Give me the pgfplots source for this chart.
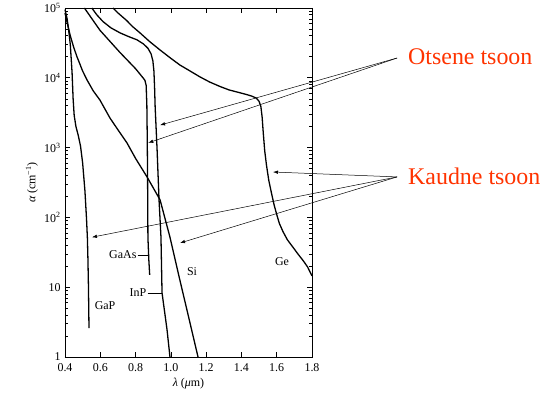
\documentclass[border=0pt]{standalone}
\usepackage{fontspec}
\setmainfont{Liberation Serif}
\usepackage{pgfplots}
\pgfplotsset{compat=1.18}
\usetikzlibrary{arrows.meta}
\definecolor{annot}{RGB}{255,51,0}

\pgfplotstableread{
x y
0.400 95000
0.412 70000
0.420 50000
0.430 30000
0.440 12000
0.446 5000
0.452 2900
0.462 2000
0.475 1500
0.488 1050
0.500 600
0.513 240
0.522 95
0.527 50
0.530 25
0.533 10
0.536 2.6
}\GaP

\pgfplotstableread{
x y
0.400 85000
0.412 62000
0.430 40000
0.450 27000
0.468 20000
0.500 12500
0.525 9300
0.560 6500
0.598 4800
0.655 2650
0.700 1800
0.751 1170
0.800 700
0.865 380
0.939 178
0.995 52
1.050 13
1.100 3.8
1.154 1
}\Si

\pgfplotstableread{
x y
0.510 100000
0.598 48000
0.712 23000
0.800 13500
0.842 10000
0.853 9200
0.860 7800
0.864 4000
0.866 1500
0.868 400
0.870 52
0.875 25
0.880 15
}\GaAs

\pgfplotstableread{
x y
0.552 100000
0.580 80000
0.615 64000
0.660 52000
0.712 44000
0.760 39000
0.808 35000
0.845 30500
0.870 26500
0.888 22000
0.898 17500
0.904 12500
0.908 7000
0.911 3800
0.922 930
0.933 178
0.944 52
0.950 8.3
0.978 2.5
0.995 1
}\InP

\pgfplotstableread{
x y
0.672 100000
0.700 85000
0.750 66000
0.780 55000
0.825 44000
0.880 33000
0.939 25000
1.000 19000
1.052 15200
1.100 12900
1.165 10300
1.220 8700
1.279 7500
1.330 6700
1.392 6100
1.430 5750
1.460 5450
1.485 5100
1.500 4600
1.510 3900
1.517 2800
1.524 1600
1.532 900
1.542 560
1.555 340
1.570 225
1.585 152
1.600 110
1.615 82
1.635 63
1.660 48
1.690 38
1.720 30
1.750 24
1.775 19.5
1.800 14.5
}\Ge

\begin{document}
\begin{tikzpicture}
\path[use as bounding box] (-65bp,-42bp) rectangle (490bp,357bp);
\begin{axis}[
  at={(0,0)}, anchor=south west,
  scale only axis, width=247bp, height=349bp,
  xmin=0.4, xmax=1.8, ymin=1, ymax=100000,
  ymode=log,
  clip=false,
  axis line style={line width=0.8pt},
  tick style={black, line width=0.6pt},
  major tick length=5bp, minor tick length=3bp,
  xtick={0.4,0.6,0.8,1.0,1.2,1.4,1.6,1.8},
  xticklabels={0.4,0.6,0.8,1.0,1.2,1.4,1.6,1.8},
  ytick={1,10,100,1000,10000,100000},
  yticklabels={1,10,10\textsuperscript{2},10\textsuperscript{3},10\textsuperscript{4},10\textsuperscript{5}},
  ticklabel style={font=\fontsize{12}{13}\selectfont},
  xticklabel style={yshift=-3.5pt},
  yticklabel style={xshift=-1pt},
  xlabel={{\itshape λ} ({\itshape μ}m)},
  ylabel={{\itshape α} (cm\textsuperscript{−1})},
  xlabel style={at={(axis description cs:0.5,-0.075)}, anchor=center, font=\fontsize{12}{13}\selectfont},
  ylabel style={at={(axis description cs:-0.134,0.5)}, anchor=center, rotate=0, font=\fontsize{12}{13}\selectfont},
]
\addplot[black, line width=1.3pt] table[x=x,y=y] {\GaP};
\addplot[black, line width=1.3pt] table[x=x,y=y] {\Si};
\addplot[black, line width=1.3pt] table[x=x,y=y] {\GaAs};
\addplot[black, line width=1.3pt] table[x=x,y=y] {\InP};
\addplot[black, line width=1.3pt] table[x=x,y=y] {\Ge};

% curve labels
\node[anchor=east, inner sep=0pt, font=\fontsize{12}{13}\selectfont] at (axis cs:0.806,29) {GaAs};
\draw[line width=0.6pt] (axis cs:0.812,29) -- (axis cs:0.870,29);
\node[anchor=east, inner sep=0pt, font=\fontsize{12}{13}\selectfont] at (axis cs:0.862,8.3) {InP};
\draw[line width=0.6pt] (axis cs:0.868,8.3) -- (axis cs:0.948,8.3);
\node[inner sep=0pt, font=\fontsize{12}{13}\selectfont] at (axis cs:0.627,5.4) {GaP};
\node[inner sep=0pt, font=\fontsize{12}{13}\selectfont] at (axis cs:1.12,16.5) {Si};
\node[inner sep=0pt, font=\fontsize{12}{13}\selectfont] at (axis cs:1.63,23) {Ge};

% annotations
\draw[-{Latex[length=5pt,width=3.5pt]}, line width=0.5pt] (axis cs:2.282,19200) -- (axis cs:0.939,2100);
\draw[-{Latex[length=5pt,width=3.5pt]}, line width=0.5pt] (axis cs:2.282,19200) -- (axis cs:0.872,1170);
\draw[-{Latex[length=5pt,width=3.5pt]}, line width=0.5pt] (axis cs:2.282,380) -- (axis cs:1.579,447);
\draw[-{Latex[length=5pt,width=3.5pt]}, line width=0.5pt] (axis cs:2.282,380) -- (axis cs:0.553,52);
\draw[-{Latex[length=5pt,width=3.5pt]}, line width=0.5pt] (axis cs:2.282,380) -- (axis cs:1.052,43);
\node[anchor=west, inner sep=0pt, text=annot, font=\fontsize{24}{26}\selectfont] at (axis cs:2.344,20000) {Otsene tsoon};
\node[anchor=west, inner sep=0pt, text=annot, font=\fontsize{24}{26}\selectfont] at (axis cs:2.344,392) {Kaudne tsoon};
\end{axis}
\end{tikzpicture}
\end{document}
